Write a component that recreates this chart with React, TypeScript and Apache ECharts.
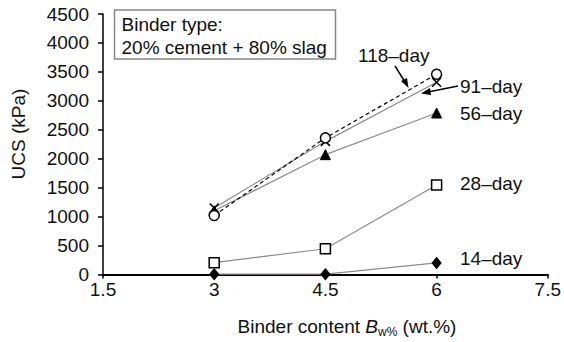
import React, { useEffect, useRef } from "react";
import * as echarts from "echarts";

const binder = [3, 4.5, 6];
const day14 = [5, 5, 200];
const day28 = [205, 445, 1545];
const day56 = [1100, 2070, 2790];
const day91 = [1150, 2300, 3320];
const day118 = [1020, 2360, 3460];
const xTicks = [1.5, 3, 4.5, 6, 7.5];
const yTicks = [0, 500, 1000, 1500, 2000, 2500, 3000, 3500, 4000, 4500];

const FONT = "Liberation Sans, Arial, Helvetica, sans-serif";
const GREY = "#8c8c8c";

const pairs = (vals: number[]) => binder.map((x, i) => [x, vals[i]]);

export default function App() {
  const ref = useRef<HTMLDivElement>(null);
  useEffect(() => {
    if (!ref.current) return;
    const chart = echarts.init(ref.current, undefined, { renderer: "svg" });
    const txt = (text: string, x: number, y: number) => ({
      type: "text",
      x,
      y,
      style: { text, font: `19px ${FONT}`, fill: "#111", textVerticalAlign: "middle" },
    });
    const base = {
      type: "line",
      symbolSize: 10,
      lineStyle: { color: GREY, width: 1.2 },
      z: 3,
    };
    chart.setOption({
      animation: false,
      backgroundColor: "#fff",
      grid: { left: 103, right: 12.5, top: 14, bottom: 67.5 },
      xAxis: {
        type: "value",
        min: xTicks[0],
        max: xTicks[xTicks.length - 1],
        interval: 1.5,
        axisLine: { lineStyle: { color: "#000", width: 2 } },
        axisTick: { show: true, length: 4, lineStyle: { color: "#000", width: 1.5 } },
        axisLabel: {
          fontSize: 19,
          fontFamily: FONT,
          color: "#111",
          margin: 5,
          formatter: (v: number) => String(v),
        },
        splitLine: { show: false },
      },
      yAxis: {
        type: "value",
        min: yTicks[0],
        max: yTicks[yTicks.length - 1],
        interval: 500,
        axisLine: { show: true, lineStyle: { color: "#000", width: 1.5 } },
        axisTick: { show: true, length: 5, lineStyle: { color: "#000", width: 1.5 } },
        axisLabel: {
          fontSize: 19,
          fontFamily: FONT,
          color: "#111",
          margin: 14,
          formatter: (v: number) => String(v),
        },
        splitLine: { show: false },
      },
      series: [
        {
          ...base,
          name: "14-day",
          data: pairs(day14),
          symbol: "diamond",
          symbolSize: [9, 11],
          itemStyle: { color: "#000", borderColor: "#000" },
        },
        {
          ...base,
          name: "28-day",
          data: pairs(day28),
          symbol: "rect",
          itemStyle: { color: "#fff", borderColor: "#000", borderWidth: 1.5 },
        },
        {
          ...base,
          name: "56-day",
          data: pairs(day56),
          symbol: "triangle",
          itemStyle: { color: "#000", borderColor: "#000" },
        },
        {
          ...base,
          name: "91-day",
          data: pairs(day91),
          symbol: "path://M0,0L10,10M10,0L0,10",
          symbolSize: 9,
          itemStyle: { color: "none", borderColor: "#000", borderWidth: 1.5 },
        },
        {
          ...base,
          name: "118-day",
          data: pairs(day118),
          symbol: "circle",
          lineStyle: { color: "#000", width: 1.2, type: [4, 3] },
          itemStyle: { color: "#fff", borderColor: "#000", borderWidth: 1.5 },
          z: 4,
        },
      ],
      graphic: [
        {
          type: "rect",
          shape: { x: 114.5, y: 10, width: 221, height: 49 },
          style: { fill: "#fff", stroke: "#888", lineWidth: 1.5 },
          z: 10,
        },
        { ...txt("Binder type:", 121.5, 24), z: 11 },
        { ...txt("20% cement + 80% slag", 121.5, 47), z: 11 },
        txt("118\u2013day", 358, 55),
        txt("91\u2013day", 460, 86),
        txt("56\u2013day", 460, 113),
        txt("28\u2013day", 460, 183),
        txt("14\u2013day", 460, 258),
        {
          type: "line",
          shape: { x1: 395, y1: 66, x2: 405, y2: 82 },
          style: { stroke: "#000", lineWidth: 1.5 },
        },
        {
          type: "polygon",
          shape: { points: [[408.5, 88], [401, 81], [407, 78]] },
          style: { fill: "#000" },
        },
        {
          type: "line",
          shape: { x1: 458, y1: 86, x2: 428, y2: 92 },
          style: { stroke: "#000", lineWidth: 1.5 },
        },
        {
          type: "polygon",
          shape: { points: [[421, 93.5], [430, 88], [431, 95]] },
          style: { fill: "#000" },
        },
        {
          type: "text",
          x: 18,
          y: 134,
          rotation: Math.PI / 2,
          style: {
            text: "UCS (kPa)",
            font: `19px ${FONT}`,
            fill: "#111",
            textAlign: "center",
            textVerticalAlign: "middle",
          },
        },
        {
          type: "text",
          x: 347,
          y: 326,
          style: {
            text: "{n|Binder content }{i|B}{s|w%}{n| (wt.%)}",
            fill: "#111",
            textAlign: "center",
            textVerticalAlign: "middle",
            rich: {
              n: { fontSize: 19, fontFamily: FONT, fill: "#111" },
              i: { fontSize: 19, fontFamily: FONT, fontStyle: "italic", fill: "#111" },
              s: { fontSize: 12, fontFamily: FONT, fill: "#111", padding: [12, 0, 0, 0] },
            },
          },
        },
      ],
    });
    return () => chart.dispose();
  }, []);
  return (
    <div
      ref={ref}
      style={{ position: "fixed", left: 0, top: 0, width: 564, height: 342 }}
    />
  );
}
